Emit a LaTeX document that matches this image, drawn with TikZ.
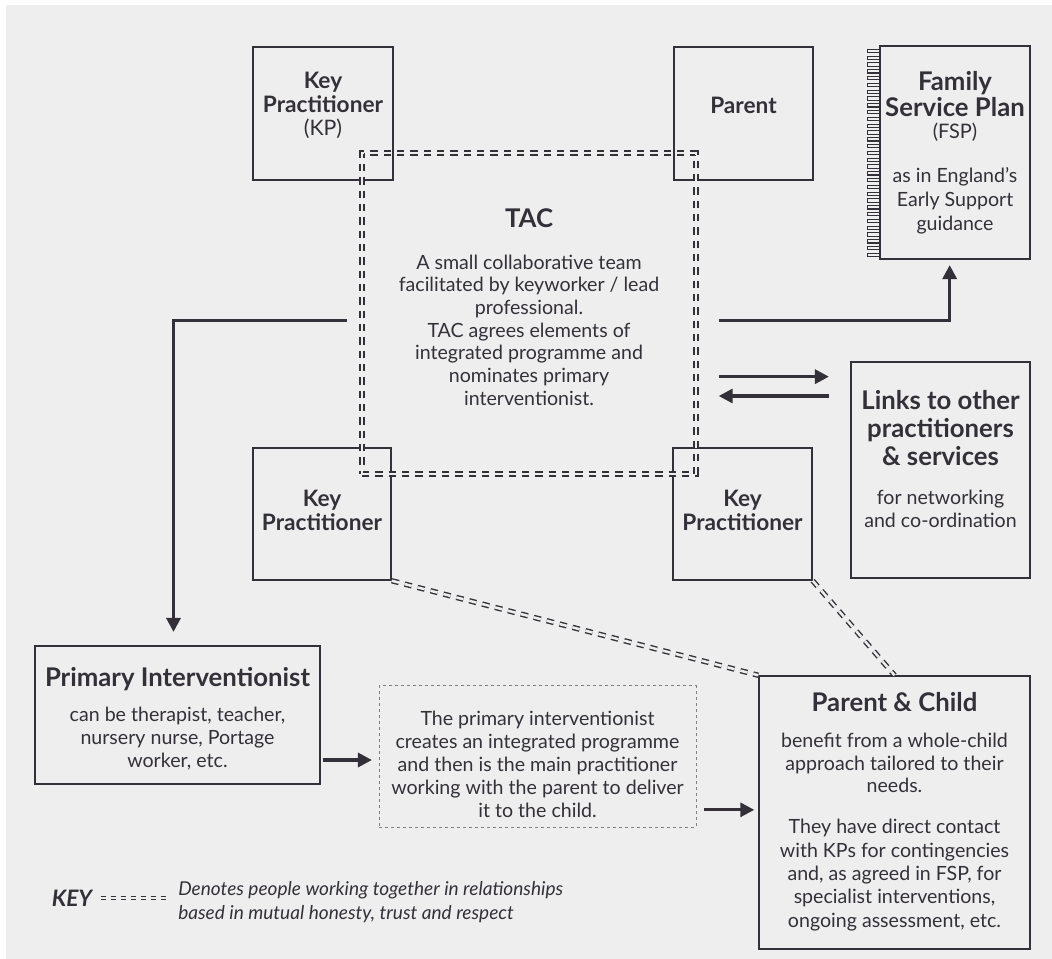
\documentclass[tikz,border=0pt]{standalone}
\usepackage{fontspec}
\setmainfont{Lato}
\usetikzlibrary{positioning}
\usetikzlibrary{arrows.meta}
\definecolor{paper}{RGB}{238,238,238}
\definecolor{ink}{RGB}{52,48,56}

\newcommand{\bodyfont}{\fontsize{14.7}{17.25}\selectfont}
\newcommand{\headfont}{\fontsize{19.3}{21}\selectfont\bfseries}
\newcommand{\kpfont}{\fontsize{17}{17.6}\selectfont}

\begin{document}
\begin{tikzpicture}[x=0.75pt,y=-0.75pt,
    box/.style={draw=ink, line width=1.1pt, inner sep=0pt},
    txt/.style={text=ink, align=center, inner sep=0pt, font=\bodyfont},
    head/.style={txt, font=\headfont},
    arr/.style={draw=ink, line width=2.4pt, -{Triangle[length=10.5pt,width=10.5pt]}},
    rel/.style={draw=ink, line width=1.05pt, double=paper, double distance=1.9pt, dash pattern=on 5.5pt off 4.5pt},
  ]

    % page
    \fill[white] (0,0) rectangle (1052,959);
    \fill[paper] (6,5) rectangle (1052,959);
    \useasboundingbox (0,0) rectangle (1052,959);

    % ------------------

    % boxes round the TAC
    \node[box, minimum width=105pt, minimum height=99.75pt] (kp1) at (323,113.5) {};
    \node[txt, font=\kpfont, below=19.5pt of kp1.north] (kp1txt) {\textbf{Key}\\\textbf{Practitioner}\\{\fontsize{16}{17.6}\selectfont(KP)}};

    \node[box, minimum width=104.25pt, minimum height=99.75pt] (parent) at (743.5,113.5) {};
    \node[txt, font=\kpfont, below=38pt of parent.north] (parenttxt) {\textbf{Parent}};

    \node[box, minimum width=103.5pt, minimum height=99pt] (kp2) at (322,514) {};
    \node[txt, font=\kpfont\bfseries, below=32pt of kp2.north] (kp2txt) {Key\\Practitioner};

    \node[box, minimum width=104.25pt, minimum height=99pt] (kp3) at (742.5,514) {};
    \node[txt, font=\kpfont\bfseries, below=32pt of kp3.north] (kp3txt) {Key\\Practitioner};

    % TAC
    \node[rel, minimum width=250.5pt, minimum height=240.75pt, inner sep=0pt] (tac) at (529,313.5) {};
    \node[head, below=42pt of tac.north] (tachead) {TAC};
    \node[txt, below=76.5pt of tac.north, font=\fontsize{14.7}{17}\selectfont] (tactxt) {A small collaborative team\\
        facilitated by keyworker / lead\\
        professional.\\
        TAC agrees elements of\\
        integrated programme and\\
        nominates primary\\
        interventionist.};

    % ------------------

    % FSP
    \node[box, minimum width=112.5pt, minimum height=159.75pt] (fsp) at (955,152.5) {};
    \foreach \i in {0,...,30}
    \draw[ink, line width=0.8pt] ([yshift=-3pt-\i*5.1pt]fsp.north west) -- ++(-9pt,0) -- ++(0,-2.5pt) -- ++(9pt,0);
    \node[head, below=19.25pt of fsp.north, font=\fontsize{19.3}{19.5}\selectfont\bfseries] (fsphead) {Family\\Service Plan};
    \node[txt, below=57.75pt of fsp.north, font=\fontsize{15}{18}\selectfont] (fspabbr) {(FSP)};
    \node[txt, below=91.5pt of fsp.north, font=\fontsize{14.7}{18}\selectfont] (fsptxt) {as in England's\\Early Support\\guidance};

    % links
    \node[box, minimum width=134.25pt, minimum height=162pt] (links) at (940.5,470) {};
    \node[head, below=21.5pt of links.north] (linkshead) {Links to other\\practitioners\\\& services};
    \node[txt, below=96.5pt of links.north] (linkstxt) {for networking\\and co-ordination};

    % ------------------

    % lower row
    \node[box, minimum width=213.75pt, minimum height=103.5pt] (pi) at (177.5,715) {};
    \node[head, below=16.5pt of pi.north] (pihead) {Primary Interventionist};
    \node[txt, below=46pt of pi.north, font=\fontsize{14.7}{17.5}\selectfont] (pitxt) {can be therapist, teacher,\\nursery nurse, Portage\\worker, etc.};

    \node[box, draw=gray, line width=0.6pt, dash pattern=on 2.5pt off 2pt, minimum width=237.75pt, minimum height=106pt] (prog) at (537.5,756.5) {};
    \node[txt, below=18.75pt of prog.north] (progtxt) {The primary interventionist\\
        creates an integrated programme\\
        and then is the main practitioner\\
        working with the parent to deliver\\
        it to the child.};

    \node[box, minimum width=203.25pt, minimum height=204.75pt] (pc) at (894.5,812.5) {};
    \node[head, below=12.75pt of pc.north] (pchead) {Parent \& Child};
    \node[txt, below=43.25pt of pc.north, font=\fontsize{14.7}{16.9}\selectfont] (pctxt) {benefit from a whole-child\\approach tailored to their\\needs.};
    \node[txt, below=108pt of pc.north, font=\fontsize{14.7}{17.5}\selectfont] (pcmore) {They have direct contact\\
        with KPs for contingencies\\
        and, as agreed in FSP, for\\
        specialist interventions,\\
        ongoing assessment, etc.};

    % ------------------

    % arrows
    \coordinate (tacL) at ([shift={(-11pt,-5pt)}]tac.west);
    \coordinate (tacR) at ([shift={(16.5pt,-5pt)}]tac.east);
    \coordinate (toLinks) at ([shift={(-16pt,70pt)}]links.west);
    \coordinate (fromLinks) at ([shift={(-16pt,55.5pt)}]links.west);

    \draw[arr] (tacL) -| ([shift={(-3pt,10pt)}]pi.north);
    \draw[arr] (tacR) -| ([shift={(-4pt,-4pt)}]fsp.south);
    \draw[arr] (tacR |- toLinks) -- (toLinks);
    \draw[arr] (fromLinks) -- (tacR |- fromLinks);
    \draw[arr] ([shift={(1.5pt,-33.75pt)}]pi.east) -- ([shift={(-5pt,-33.75pt)}]pi.east -| prog.west);
    \draw[arr] ([shift={(6pt,-40pt)}]prog.east) -- ([shift={(-3pt,-40pt)}]prog.east -| pc.west);

    % relationships
    \draw[rel] (kp2.south east) -- (pc.north west);
    \draw[rel] (kp3.south east) -- (pc.north);

    % key
    \node[txt, font=\fontsize{17}{18}\selectfont\bfseries\itshape] (keylbl) at (72,898) {KEY};
    \node[txt, anchor=north west, align=left, font=\fontsize{14.3}{18}\selectfont\itshape] (keytxt) at (178,881) {Denotes people working together in relationships\\based in mutual honesty, trust and respect};
    \draw[rel, line width=0.9pt, dash pattern=on 4pt off 3.5pt] ([xshift=6pt]keylbl.east) -- ([xshift=-9pt]keylbl.east -| keytxt.west);
\end{tikzpicture}
\end{document}
